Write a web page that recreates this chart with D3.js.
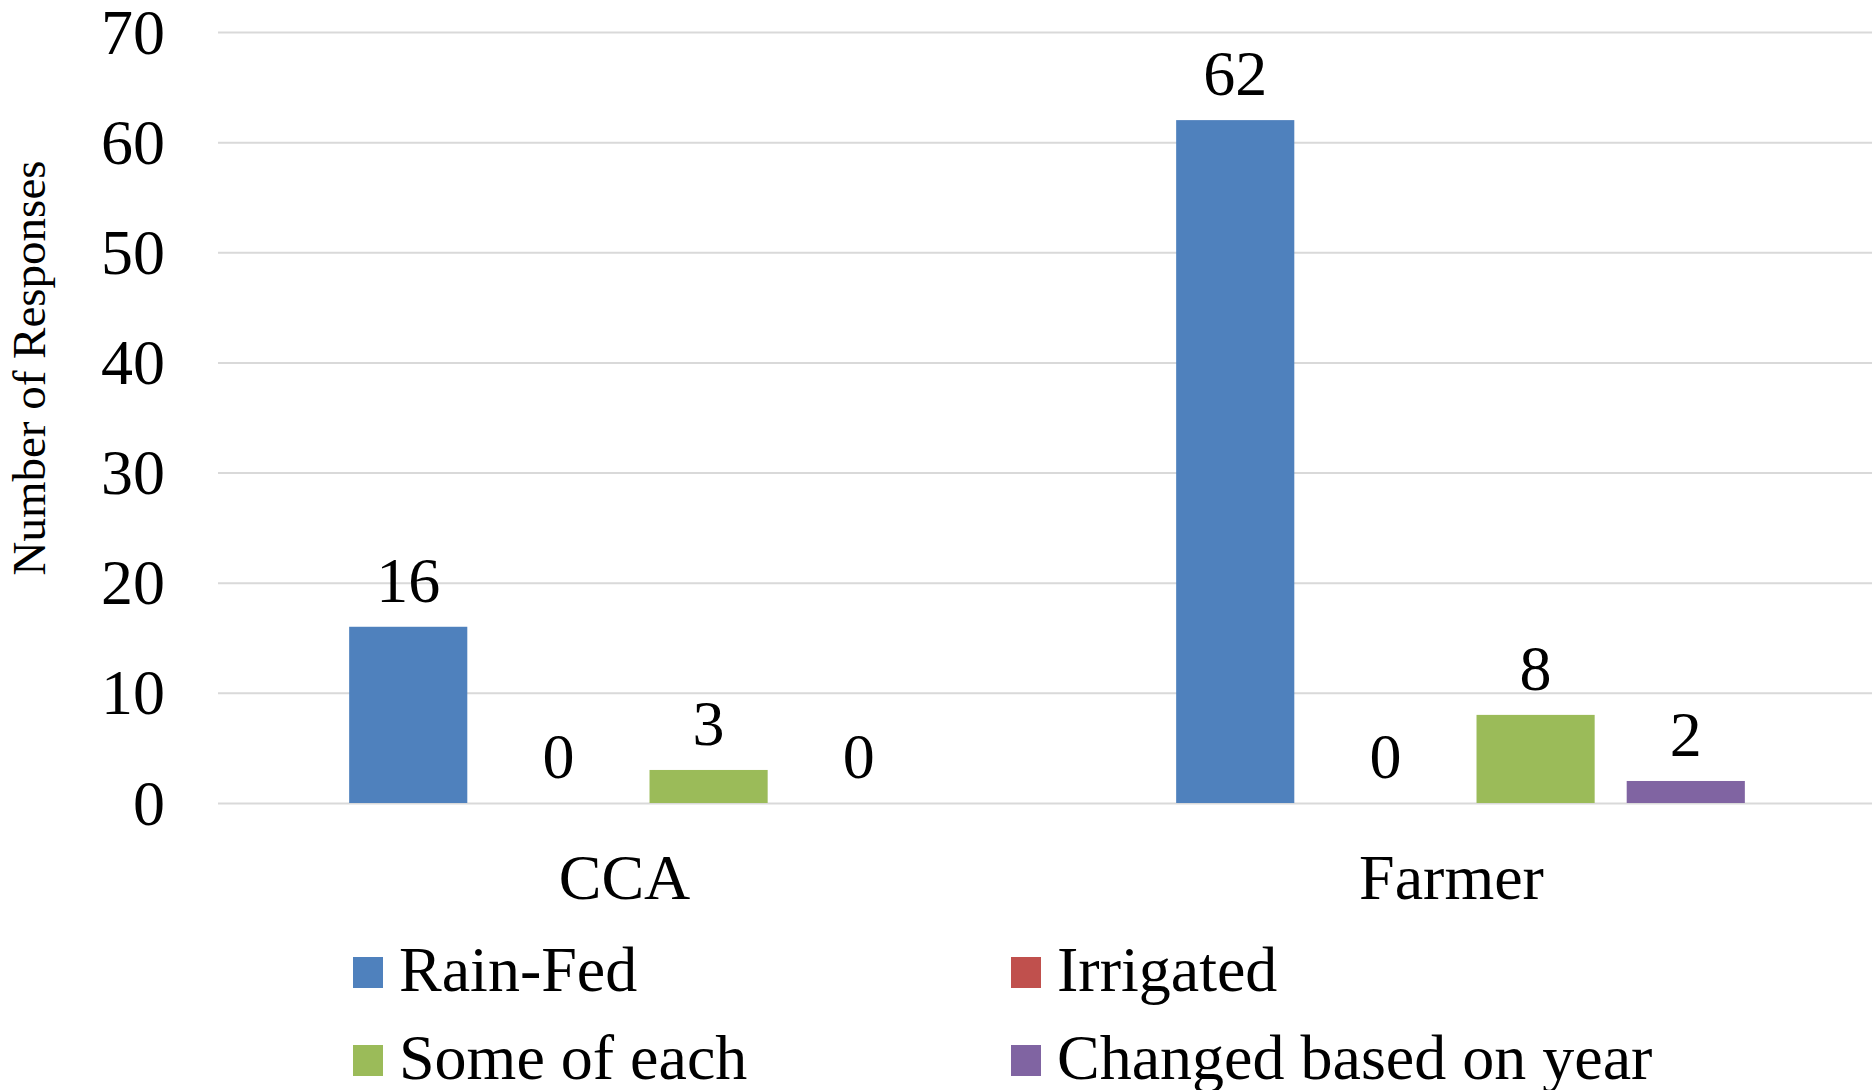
<!DOCTYPE html>
<html>
<head>
<meta charset="utf-8">
<script src="https://cdn.jsdelivr.net/npm/d3@7"></script>
<style>
  html, body { margin: 0; padding: 0; background: #fff; }
  svg { display: block; }
  text { font-family: "Liberation Serif", "Times New Roman", serif; fill: #000; }
</style>
</head>
<body>
<svg id="chart" width="1872" height="1090"></svg>
<script>
const categories = ["CCA", "Farmer"];
const seriesNames = ["Rain-Fed", "Irrigated", "Some of each", "Changed based on year"];
const seriesColors = ["#4F81BD", "#C0504D", "#9BBB59", "#8064A2"];
const rainFed = [16, 62];
const irrigated = [0, 0];
const someOfEach = [3, 8];
const changedByYear = [0, 2];
const yTicks = [0, 10, 20, 30, 40, 50, 60, 70];
const yTitle = "Number of Responses";

const seriesValues = [rainFed, irrigated, someOfEach, changedByYear];
const data = categories.map((c, i) => ({
  category: c,
  values: seriesNames.map((s, j) => ({ series: s, value: seriesValues[j][i], color: seriesColors[j] }))
}));

const W = 1872, H = 1090;
const plot = { left: 218, right: 1872, top: 32, bottom: 803 };
const svg = d3.select("#chart");

const y = d3.scaleLinear().domain([0, 70]).range([plot.bottom, plot.top]);
const x0 = d3.scaleBand().domain(categories).range([plot.left, plot.right]).padding(0);
const x1 = d3.scaleBand().domain(seriesNames).range([0, x0.bandwidth()])
  .paddingInner(0.2133).paddingOuter(0.86);

// gridlines
const grid = d3.axisLeft(y).tickValues(yTicks).tickSize(-(plot.right - plot.left)).tickFormat("");
svg.append("g").attr("transform", `translate(${plot.left},0)`).call(grid)
  .call(g => g.select(".domain").remove())
  .call(g => g.selectAll("line").attr("stroke", "#D9D9D9").attr("stroke-width", 2));

// tick labels
const yAxis = d3.axisLeft(y).tickValues(yTicks).tickSize(0).tickPadding(53);
svg.append("g").attr("transform", `translate(${plot.left},0)`).call(yAxis)
  .call(g => g.select(".domain").remove())
  .call(g => g.selectAll("text").attr("font-size", 64).attr("font-family", "Liberation Serif, serif").attr("fill", "#000").attr("dy", "0.33em"));

// y title
svg.append("text")
  .attr("transform", `translate(45,368) rotate(-90)`)
  .attr("text-anchor", "middle")
  .attr("font-size", 47)
  .text(yTitle);

// bars
const groups = svg.append("g").selectAll("g").data(data).join("g")
  .attr("transform", d => `translate(${x0(d.category) + 2},0)`);

groups.selectAll("rect").data(d => d.values).join("rect")
  .attr("x", d => x1(d.series))
  .attr("width", x1.bandwidth())
  .attr("y", d => y(d.value))
  .attr("height", d => y(0) - y(d.value))
  .attr("fill", d => d.color);

groups.selectAll("text.lbl").data(d => d.values).join("text")
  .attr("class", "lbl")
  .attr("x", d => x1(d.series) + x1.bandwidth() / 2)
  .attr("y", d => y(d.value) - 25)
  .attr("text-anchor", "middle")
  .attr("font-size", 64)
  .text(d => d.value);

// category axis labels
const xAxis = d3.axisBottom(x0).tickSize(0).tickPadding(0);
svg.append("g").attr("transform", `translate(-7,${plot.bottom})`).call(xAxis)
  .call(g => g.select(".domain").remove())
  .call(g => g.selectAll("text").attr("font-size", 64).attr("font-family", "Liberation Serif, serif").attr("fill", "#000").attr("dy", null).attr("y", 96));

// legend
const legendPos = [
  { x: 353, y: 957 }, { x: 1011, y: 957 },
  { x: 353, y: 1045 }, { x: 1011, y: 1045 }
];
const legend = svg.append("g").selectAll("g").data(seriesNames).join("g")
  .attr("transform", (d, i) => `translate(${legendPos[i].x},${legendPos[i].y})`);
legend.append("rect").attr("width", 30).attr("height", 31)
  .attr("fill", (d, i) => seriesColors[i]);
legend.append("text").attr("x", 46).attr("y", 34)
  .attr("font-size", 64).text(d => d);
</script>
</body>
</html>
